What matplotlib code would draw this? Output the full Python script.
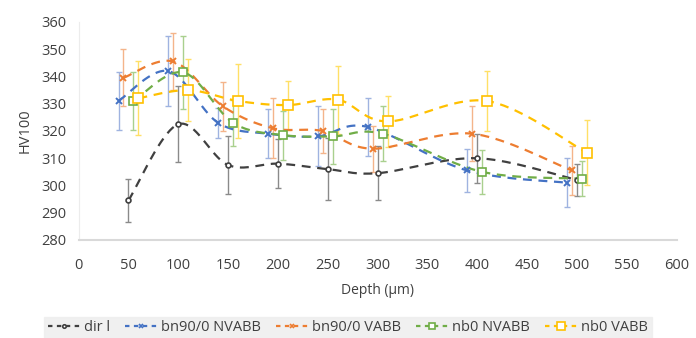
import matplotlib.pyplot as plt
import numpy as np
from matplotlib.lines import Line2D

plt.rcParams['font.family'] = ['Open Sans', 'DejaVu Sans']

# depth positions (offset per series like the original)
x_dir = [50, 100, 150, 200, 250, 300, 400, 500]
x_bnn = [40, 90, 140, 190, 240, 290, 390, 490]
x_bnv = [45, 95, 145, 195, 245, 295, 395, 495]
x_nbn = [55, 105, 155, 205, 255, 305, 405, 505]
x_nbv = [60, 110, 160, 210, 260, 310, 410, 510]

y_dir = [294.5, 322.5, 307.5, 308, 306, 304.5, 310, 302]
e_dir = [8, 14, 10.5, 9, 11.5, 10, 9, 6]
y_bnn = [331, 342, 323, 319, 318, 321.5, 305.5, 301]
e_bnn = [10.5, 13, 5.5, 9, 11, 10.5, 8, 9]
y_bnv = [339.5, 345.5, 329, 321, 320, 313.5, 319, 305.5]
e_bnv = [10.5, 10.5, 9, 11, 8, 8.5, 10, 9]
y_nbn = [331, 341.5, 323, 318.5, 318, 319, 305, 302.5]
e_nbn = [10.5, 13.5, 8.5, 9, 10, 10, 8, 6.5]
y_nbv = [332, 335, 331, 329.5, 331.5, 323.5, 331, 312]
e_nbv = [13.5, 11.5, 13.5, 9, 12.5, 9.5, 11, 12]

labels = ['dir l', 'bn90/0 NVABB', 'bn90/0 VABB', 'nb0 NVABB', 'nb0 VABB']
colors = ['#404040', '#4472C4', '#ED7D31', '#70AD47', '#FFC000']
err_colors = ['#8a8a8a', '#9fb3e0', '#f4b48a', '#a9d08e', '#ffe066']
markers = ['o', 'x', 'x', 's', 's']
msizes = [3.5, 4.5, 4.5, 6, 6.5]


def smooth(x, y, n=20):
    # Catmull-Rom style smoothing similar to Excel smoothed lines
    p = np.column_stack([x, y]).astype(float)
    p = np.vstack([p[0], p, p[-1]])
    out = []
    for i in range(1, len(p) - 2):
        p0, p1, p2, p3 = p[i - 1], p[i], p[i + 1], p[i + 2]
        c1 = p1 + (p2 - p0) / 6
        c2 = p2 - (p3 - p1) / 6
        t = np.linspace(0, 1, n)[:, None]
        seg = ((1 - t) ** 3) * p1 + 3 * ((1 - t) ** 2) * t * c1 + 3 * (1 - t) * t ** 2 * c2 + t ** 3 * p2
        out.append(seg)
    out = np.vstack(out)
    return out[:, 0], out[:, 1]


fig, ax = plt.subplots(figsize=(6.96, 3.38), dpi=100)
fig.subplots_adjust(left=0.113, right=0.972, top=0.935, bottom=0.29)

series = [(x_dir, y_dir, e_dir), (x_bnn, y_bnn, e_bnn), (x_bnv, y_bnv, e_bnv),
          (x_nbn, y_nbn, e_nbn), (x_nbv, y_nbv, e_nbv)]

handles = []
for (xs, ys, es), lab, c, ec, m, ms in zip(series, labels, colors, err_colors, markers, msizes):
    ax.errorbar(xs, ys, yerr=es, fmt='none', ecolor=ec, elinewidth=1.0, capsize=2, capthick=1, zorder=2)
    sx, sy = smooth(xs, ys)
    ax.plot(sx, sy, color=c, lw=1.6, ls=(0, (4, 3)), zorder=3)
    if m == 'x':
        ax.plot(xs, ys, ls='none', marker=m, ms=ms, mec=c, mew=1.4, zorder=4)
    else:
        ax.plot(xs, ys, ls='none', marker=m, ms=ms, mfc='white', mec=c, mew=1.2, zorder=4)
    handles.append(Line2D([], [], color=c, lw=1.6, ls=(0, (2, 2)), marker=m, ms=ms - 1,
                          mfc='white' if m != 'x' else c, mec=c, mew=1.2))

ax.set_xlim(0, 600)
ax.set_ylim(280, 360)
ax.set_xticks(np.arange(0, 601, 50))
ax.set_yticks(np.arange(280, 361, 10))
ax.tick_params(length=0, labelsize=10.5, colors='#404040')
ax.tick_params(axis='x', pad=13)
ax.tick_params(axis='y', pad=9)
for s in ['top', 'right']:
    ax.spines[s].set_visible(False)
ax.spines['left'].set_color('#ececec')
ax.spines['bottom'].set_color('#d9d9d9')
ax.spines['bottom'].set_linewidth(1.5)

ax.set_ylabel('HV100', fontsize=10.5, color='#404040', labelpad=6)
ax.set_xlabel('Depth (µm)', fontsize=10, color='#404040', labelpad=7)

leg = fig.legend(handles, labels, loc='center', bbox_to_anchor=(0.5, 0.03), ncol=5,
                 frameon=True, fontsize=10.5, handlelength=2.2, handletextpad=0.3,
                 columnspacing=1.0, borderpad=0.25, fancybox=False)
leg.get_frame().set_facecolor('#ededed')
leg.get_frame().set_edgecolor('#ededed')
for t in leg.get_texts():
    t.set_color('#404040')

fig.savefig('out.png', dpi=100)
